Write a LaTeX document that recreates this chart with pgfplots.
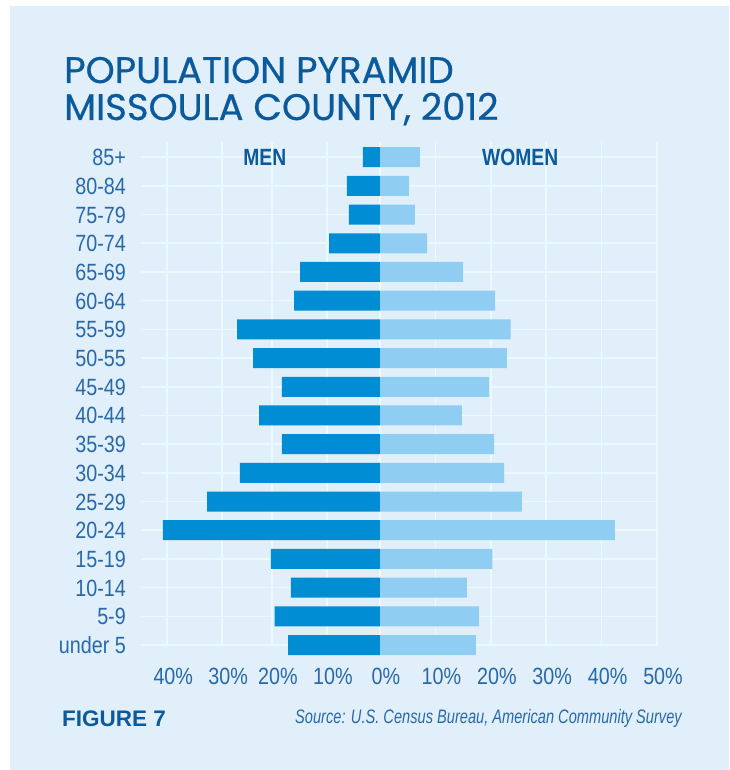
\documentclass[border=0pt]{standalone}
\usepackage{fontspec}
\usepackage{pgfplots}
\pgfplotsset{compat=1.18}
\setmainfont{Liberation Sans}
\newfontfamily\titlefont[FakeBold=0.6]{Poppins}
\newfontfamily\condfont[FakeStretch=0.84]{Liberation Sans}
\newfontfamily\condbold[FakeStretch=0.82]{Liberation Sans}
\newfontfamily\srcfont[FakeStretch=0.75]{Liberation Sans}
\definecolor{panelbg}{RGB}{225,239,250}
\definecolor{gridc}{RGB}{233,251,255}
\definecolor{menc}{RGB}{0,141,211}
\definecolor{womc}{RGB}{143,206,242}
\definecolor{titlec}{RGB}{11,90,155}
\definecolor{labelc}{RGB}{40,105,170}

\begin{document}
\begin{tikzpicture}
\useasboundingbox (0,0) rectangle (729pt,-770pt);
\fill[white] (0,0) rectangle (729pt,-770pt);
\fill[panelbg] (10pt,-6pt) rectangle (729pt,-770pt);

% title
\node[anchor=base west, inner sep=0pt, font=\titlefont\fontsize{37}{40}\selectfont, text=titlec]
  at (64pt,-83pt) {POPULATION PYRAMID};
\node[anchor=base west, inner sep=0pt, font=\titlefont\fontsize{37}{40}\selectfont, text=titlec]
  at (64pt,-120pt) {MISSOULA COUNTY, 2012};

\begin{axis}[
    at={(141pt,-645pt)}, anchor=south west,
    scale only axis, width=516pt, height=503.3pt,
    xmin=-43.14, xmax=50, ymin=0, ymax=17.54,
    clip=false,
    axis line style={draw=none},
    tick style={draw=none},
    xtick={-38.4,-28.5,-19.5,-9.6,0,10,20,30,40,50},
    xticklabels={40\%,30\%,20\%,10\%,0\%,10\%,20\%,30\%,40\%,50\%},
    ytick={0,1,...,17},
    yticklabels={under 5,5-9,10-14,15-19,20-24,25-29,30-34,35-39,40-44,45-49,50-55,55-59,60-64,65-69,70-74,75-79,80-84,85+},
    xmajorgrids, ymajorgrids,
    grid style={color=gridc, line width=1.6pt},
    xticklabel style={font=\condfont\fontsize{23.5}{25}\selectfont, text=labelc, anchor=base, inner sep=0pt, yshift=-39pt, xshift=6pt},
    yticklabel style={font=\condfont\fontsize{23.5}{25}\selectfont, text=labelc, anchor=base east, inner sep=0pt, xshift=-15pt, yshift=-8.5pt},
]
% men (left side)
\addplot[xbar, bar width=20pt, bar shift=0pt, fill=menc, draw=none] coordinates {
    (-16.6,0) (-19.0,1) (-16.1,2) (-19.7,3) (-39.2,4) (-31.2,5) (-25.3,6) (-17.7,7) (-21.8,8)
    (-17.7,9) (-22.9,10) (-25.8,11) (-15.5,12) (-14.4,13) (-9.2,14) (-5.6,15) (-6.0,16) (-3.1,17)
};
% women (right side)
\addplot[xbar, bar width=20pt, bar shift=0pt, fill=womc, draw=none] coordinates {
    (17.3,0) (17.9,1) (15.7,2) (20.3,3) (42.4,4) (25.6,5) (22.4,6) (20.6,7) (14.8,8)
    (19.7,9) (22.9,10) (23.6,11) (20.8,12) (15.0,13) (8.5,14) (6.3,15) (5.2,16) (7.2,17)
};
\node[font=\condbold\bfseries\fontsize{23.5}{25}\selectfont, text=titlec, anchor=base, inner sep=0pt]
  at (axis cs:-20.8,17) [yshift=-8.5pt] {MEN};
\node[font=\condbold\bfseries\fontsize{23.5}{25}\selectfont, text=titlec, anchor=base, inner sep=0pt]
  at (axis cs:25.3,17) [yshift=-8.5pt] {WOMEN};
\end{axis}

% footer
\node[anchor=base west, inner sep=0pt, font=\bfseries\fontsize{22.5}{25}\selectfont, text=titlec]
  at (62pt,-726pt) {FIGURE 7};
\node[anchor=base east, inner sep=0pt, font=\srcfont\itshape\fontsize{19.5}{22}\selectfont, text=labelc]
  at (682pt,-723pt) {Source: U.S. Census Bureau, American Community Survey};
\end{tikzpicture}
\end{document}
